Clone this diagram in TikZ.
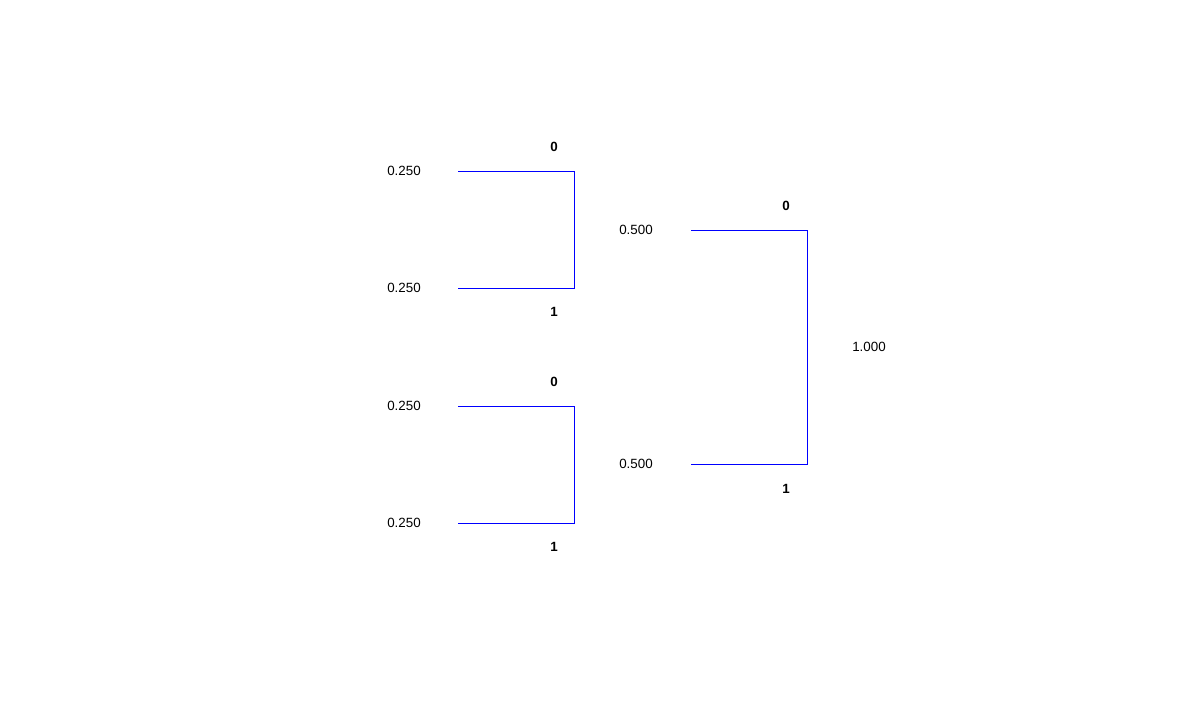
\documentclass[tikz,border=0pt]{standalone}
\usepackage{fontspec}
\setmainfont{Liberation Sans}
\usetikzlibrary{positioning,calc}

\begin{document}
\begin{tikzpicture}[x=0.02cm, y=-0.02cm, line width=0.5pt,
                branch/.style={draw=blue, line cap=rect},
                weight/.style={font=\fontsize{7.6}{9}\selectfont, inner sep=0pt},
                bit/.style={font=\fontsize{7.6}{9}\selectfont\bfseries, inner sep=0pt}
            ]
\useasboundingbox (0,0) rectangle (1201,720);

% --- leaf ends and junctions of the tree ---
                \coordinate (a1) at (458,171);   % first pair, upper leaf
                \coordinate (a2) at (458,288);   % first pair, lower leaf
                \coordinate (b1) at (458,406);   % second pair, upper leaf
                \coordinate (b2) at (458,523);   % second pair, lower leaf
                \coordinate (c1) at (691,230);   % merged node 0.500 upper
                \coordinate (c2) at (691,464);   % merged node 0.500 lower

                \coordinate (ja1) at (574,171);
                \coordinate (ja2) at (574,288);
                \coordinate (jb1) at (574,406);
                \coordinate (jb2) at (574,523);
                \coordinate (jc1) at (807,230);
                \coordinate (jc2) at (807,464);

% --- branches ---
                \draw[branch] (a1)--(ja1)--(ja2)--(a2);
                \draw[branch] (b1)--(jb1)--(jb2)--(b2);
                \draw[branch] (c1)--(jc1)--(jc2)--(c2);

% --- weights ---
                \node[weight] (wa1) at (404,171) {0.250};
                \node[weight] (wa2) at (404,288) {0.250};
                \node[weight] (wb1) at (404,406) {0.250};
                \node[weight] (wb2) at (404,523) {0.250};
                \node[weight] (wc1) at (636,230) {0.500};
                \node[weight] (wc2) at (636,464) {0.500};
                \node[weight] (root) at (869,347) {1.000};

% --- code bits ---
                \node[bit] (ba0) at (554,147) {0};
                \node[bit] (ba1) at (554,312) {1};
                \node[bit] (bb0) at (554,382) {0};
                \node[bit] (bb1) at (554,547) {1};
                \node[bit] (bc0) at (786,206) {0};
                \node[bit] (bc1) at (786,489) {1};

            \end{tikzpicture}
\end{document}
